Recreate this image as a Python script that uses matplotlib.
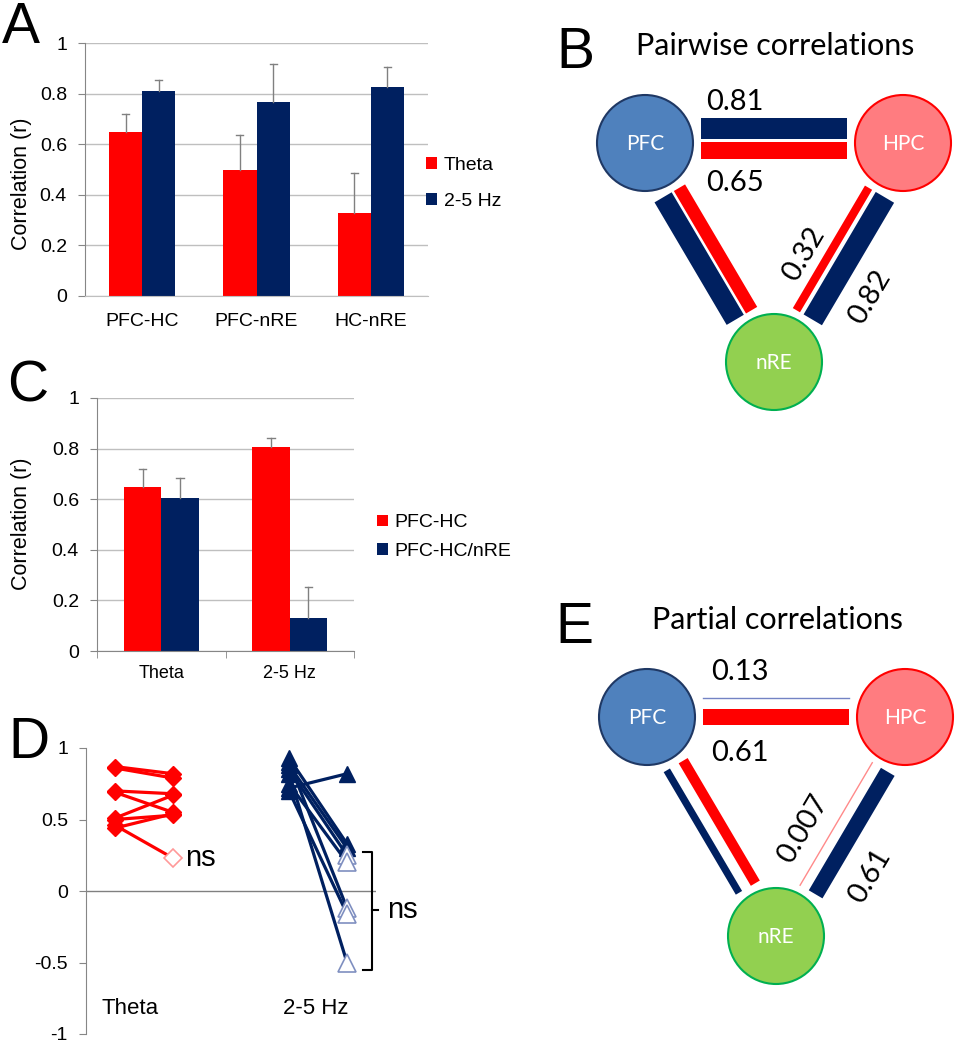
import numpy as np
import matplotlib.pyplot as plt
from matplotlib.patches import Circle, Polygon

RED = '#FF0000'
NAVY = '#002060'
GRID = '#BFBFBF'
AXC = '#868686'

# A: pairwise correlations per region pair
pairs = ['PFC-HC', 'PFC-nRE', 'HC-nRE']
theta_r = [0.65, 0.50, 0.33]
theta_err = [0.07, 0.138, 0.155]
slow_r = [0.81, 0.765, 0.825]
slow_err = [0.043, 0.153, 0.08]

# C: PFC-HC vs PFC-HC partialled on nRE
bands = ['Theta', '2-5 Hz']
pfchc_r = [0.65, 0.808]
pfchc_err = [0.07, 0.035]
partial_r = [0.606, 0.132]
partial_err = [0.077, 0.119]

# D: individual animals, pairwise -> partial
theta_pre = [0.87, 0.86, 0.70, 0.69, 0.51, 0.50, 0.44, 0.46]
theta_post = [0.82, 0.79, 0.68, 0.55, 0.67, 0.53, 0.54, 0.23]
theta_sig = [1, 1, 1, 1, 1, 1, 1, 0]
slow_pre = [0.72, 0.93, 0.88, 0.85, 0.75, 0.90, 0.70, 0.82]
slow_post = [0.82, 0.33, 0.30, 0.25, 0.20, -0.12, -0.16, -0.50]
slow_sig = [1, 1, 1, 0, 0, 0, 0, 0]

# B / E: network diagrams (edges PFC-HPC, PFC-nRE, HPC-nRE)
nodes = ['PFC', 'HPC', 'nRE']
edges = [(0, 1), (0, 2), (1, 2)]
pairwise_slow = [0.81, 0.765, 0.82]
pairwise_theta = [0.65, 0.50, 0.32]
partial_slow = [0.13, 0.28, 0.61]
partial_theta = [0.61, 0.40, 0.007]

W, H = 955, 1050
fig = plt.figure(figsize=(W / 100, H / 100), dpi=100)
plt.rcParams['font.family'] = ['Liberation Sans', 'DejaVu Sans']


def px_axes(x0, y0, x1, y1):
    return fig.add_axes([x0 / W, 1 - y1 / H, (x1 - x0) / W, (y1 - y0) / H])


# ---------- network diagrams (pixel coordinates) ----------
net = px_axes(0, 0, W, H)
net.set_xlim(0, W)
net.set_ylim(H, 0)
net.set_axis_off()

node_fill = ['#4F81BD', '#FF7C80', '#92D050']
node_edge = ['#1F3864', '#FF0000', '#00B050']
PX_PER_R = 26


def draw_network(origin, title, slow, theta, offs, labels):
    ox, oy = origin
    pos = np.array([[ox, oy], [ox + 258, oy], [ox + 129, oy + 219]], float)
    cen = pos.mean(axis=0)
    net.text(ox + 130, oy - 97, title, ha='center', va='center',
             fontsize=22, family='Lato')
    for k, (i, j) in enumerate(edges):
        p0, p1 = pos[i], pos[j]
        d = p1 - p0
        L = np.hypot(*d)
        u = d / L
        n = np.array([-u[1], u[0]])
        if np.dot(n, (p0 + p1) / 2 - cen) < 0:
            n = -n
        a, b = p0 + u * 56, p1 - u * 56
        for val, col, thin, off in [(slow[k], NAVY, '#7383C4', offs[k][0]),
                                    (theta[k], RED, '#FF8A8A', offs[k][1])]:
            if val < 0.2:
                pa, pb = a + n * off, b + n * off
                net.plot([pa[0], pb[0]], [pa[1], pb[1]], color=thin, lw=1.0)
                continue
            w = val * PX_PER_R
            c1, c2 = n * (off - w / 2), n * (off + w / 2)
            net.add_patch(Polygon([a + c1, b + c1, b + c2, a + c2],
                                  closed=True, fc=col, ec='none'))
        if k in labels:
            v = p1 - p0
            if v[0] < 0:
                v = -v
            rot = np.degrees(np.arctan2(-v[1], v[0]))
            for val, along, perp in labels[k]:
                q = p0 + u * along + n * perp
                net.text(q[0], q[1], f'{val:g}', ha='center', va='center',
                         rotation=rot, rotation_mode='anchor',
                         fontsize=21, family='Lato')
    for i, name in enumerate(nodes):
        net.add_patch(Circle(pos[i], 48, fc=node_fill[i], ec=node_edge[i], lw=1.5))
        net.text(pos[i][0], pos[i][1] + 1, name, ha='center', va='center',
                 color='white', fontsize=15, family='Lato')


draw_network((645, 143), 'Pairwise correlations', pairwise_slow, pairwise_theta,
             [(14.5, -7.5), (12, -7), (12, -7)],
             {0: [(pairwise_slow[0], 90, 41), (pairwise_theta[0], 90, -40)],
              2: [(pairwise_theta[2], 146, -29), (pairwise_slow[2], 150, 50)]})
draw_network((647, 717), 'Partial correlations', partial_slow, partial_theta,
             [(19, 0), (10, -9), (13, -5)],
             {0: [(partial_slow[0], 93, 45), (partial_theta[0], 93, -36)],
              2: [(partial_theta[2], 148, -31), (partial_slow[2], 155, 51)]})


# ---------- bar charts ----------
def style_axes(ax):
    for s in ['top', 'right']:
        ax.spines[s].set_visible(False)
    for s in ['left', 'bottom']:
        ax.spines[s].set_color(AXC)
    ax.tick_params(axis='y', length=5, color=AXC, pad=8, labelsize=14)


def bar_panel(ax, cats, v1, e1, v2, e2, names, leg_anchor, spacing, xticks):
    x = np.arange(len(cats))
    w = 0.29
    ax.bar(x - w / 2, v1, w, color=RED, label=names[0], zorder=2)
    ax.bar(x + w / 2, v2, w, color=NAVY, label=names[1], zorder=2)
    for xs, vs, es in [(x - w / 2, v1, e1), (x + w / 2, v2, e2)]:
        for xi, vi, ei in zip(xs, vs, es):
            ax.plot([xi, xi], [vi, vi + ei], color='#808080', lw=1, zorder=3)
            ax.plot([xi - 0.03, xi + 0.03], [vi + ei] * 2, color='#808080', lw=1, zorder=3)
    ax.set_xlim(-0.5, len(cats) - 0.5)
    ax.set_ylim(0, 1)
    ax.set_yticks([0, 0.2, 0.4, 0.6, 0.8, 1])
    ax.set_yticklabels(['0', '0.2', '0.4', '0.6', '0.8', '1'])
    ax.yaxis.grid(True, color=GRID, lw=1)
    ax.set_axisbelow(True)
    style_axes(ax)
    ax.spines['bottom'].set_color(GRID)
    ax.set_xticks(x)
    ax.set_xticklabels(cats, fontsize=14)
    if xticks:
        ax.set_xticks(np.arange(len(cats) + 1) - 0.5, minor=True)
        ax.tick_params(axis='x', which='minor', length=5, color=AXC)
        ax.tick_params(axis='x', which='major', length=0, pad=10)
        ax.spines['bottom'].set_color(AXC)
    else:
        ax.tick_params(axis='x', length=0, pad=12)
    ax.legend(loc='center left', bbox_to_anchor=leg_anchor, frameon=False,
              fontsize=14, handlelength=0.55, handleheight=0.55,
              handletextpad=0.35, borderaxespad=0, borderpad=0,
              labelspacing=spacing)


ax_a = px_axes(85, 43, 428, 296)
bar_panel(ax_a, pairs, theta_r, theta_err, slow_r, slow_err,
          ['Theta', '2-5 Hz'], (0.995, 0.445), 0.95, False)
fig.text(21 / W, 1 - 184 / H, 'Correlation (r)', rotation=90, ha='center',
         va='center', fontsize=15.5)

ax_c = px_axes(97, 398, 354, 651)
bar_panel(ax_c, bands, pfchc_r, pfchc_err, partial_r, partial_err,
          ['PFC-HC', 'PFC-HC/nRE'], (1.09, 0.45), 0.6, True)
ax_c.tick_params(axis='x', labelsize=13)
fig.text(22 / W, 1 - 524 / H, 'Correlation (r)', rotation=90, ha='center',
         va='center', fontsize=15.5)

# ---------- D: individual animals ----------
ax_d = px_axes(86, 748, 376, 1034)
ax_d.set_xlim(0.5, 5.5)
ax_d.set_ylim(-1, 1)
style_axes(ax_d)
ax_d.spines['bottom'].set_visible(False)
ax_d.set_xticks([])
ax_d.set_yticks([-1, -0.5, 0, 0.5, 1])
ax_d.set_yticklabels(['-1', '-0.5', '0', '0.5', '1'])
ax_d.axhline(0, color='#808080', lw=1, zorder=1)

for pre, post, sig in zip(theta_pre, theta_post, theta_sig):
    ax_d.plot([1, 2], [pre, post], color=RED, lw=2.3, zorder=2)
    ax_d.plot(1, pre, 'D', color=RED, ms=8.5, zorder=3)
    if sig:
        ax_d.plot(2, post, 'D', color=RED, ms=8.5, zorder=3)
    else:
        ax_d.plot(2, post, 'D', mfc='white', mec='#FF9999', mew=1.2, ms=9.5, zorder=3)

for pre, post, sig in zip(slow_pre, slow_post, slow_sig):
    ax_d.plot([4, 5], [pre, post], color=NAVY, lw=2.3, zorder=2)
    ax_d.plot(4, pre, '^', color=NAVY, ms=12, zorder=3)
    if sig:
        ax_d.plot(5, post, '^', color=NAVY, ms=12, zorder=3)
    else:
        ax_d.plot(5, post, '^', mfc='white', mec='#7F8FC0', mew=1.2, ms=12.5, zorder=3)

ax_d.text(2.21, 0.23, 'ns', fontsize=21, va='center', ha='left')
ax_d.plot([5.28, 5.43, 5.43, 5.28], [0.27, 0.27, -0.55, -0.55], color='black',
          lw=1.5, clip_on=False)
ax_d.plot([5.43, 5.53], [-0.13, -0.13], color='black', lw=1.5, clip_on=False)
ax_d.text(5.69, -0.13, 'ns', fontsize=21, va='center', ha='left')
ax_d.text(1.26, -0.82, 'Theta', fontsize=16, ha='center', va='center')
ax_d.text(4.46, -0.82, '2-5 Hz', fontsize=16, ha='center', va='center')

# panel letters
for letter, x, y in [('A', 2, 43), ('C', 7, 402), ('D', 8, 758),
                     ('B', 556, 68), ('E', 555, 643)]:
    fig.text(x / W, 1 - y / H, letter, fontsize=41, va='baseline', ha='left')

fig.savefig('out.png', dpi=100)
